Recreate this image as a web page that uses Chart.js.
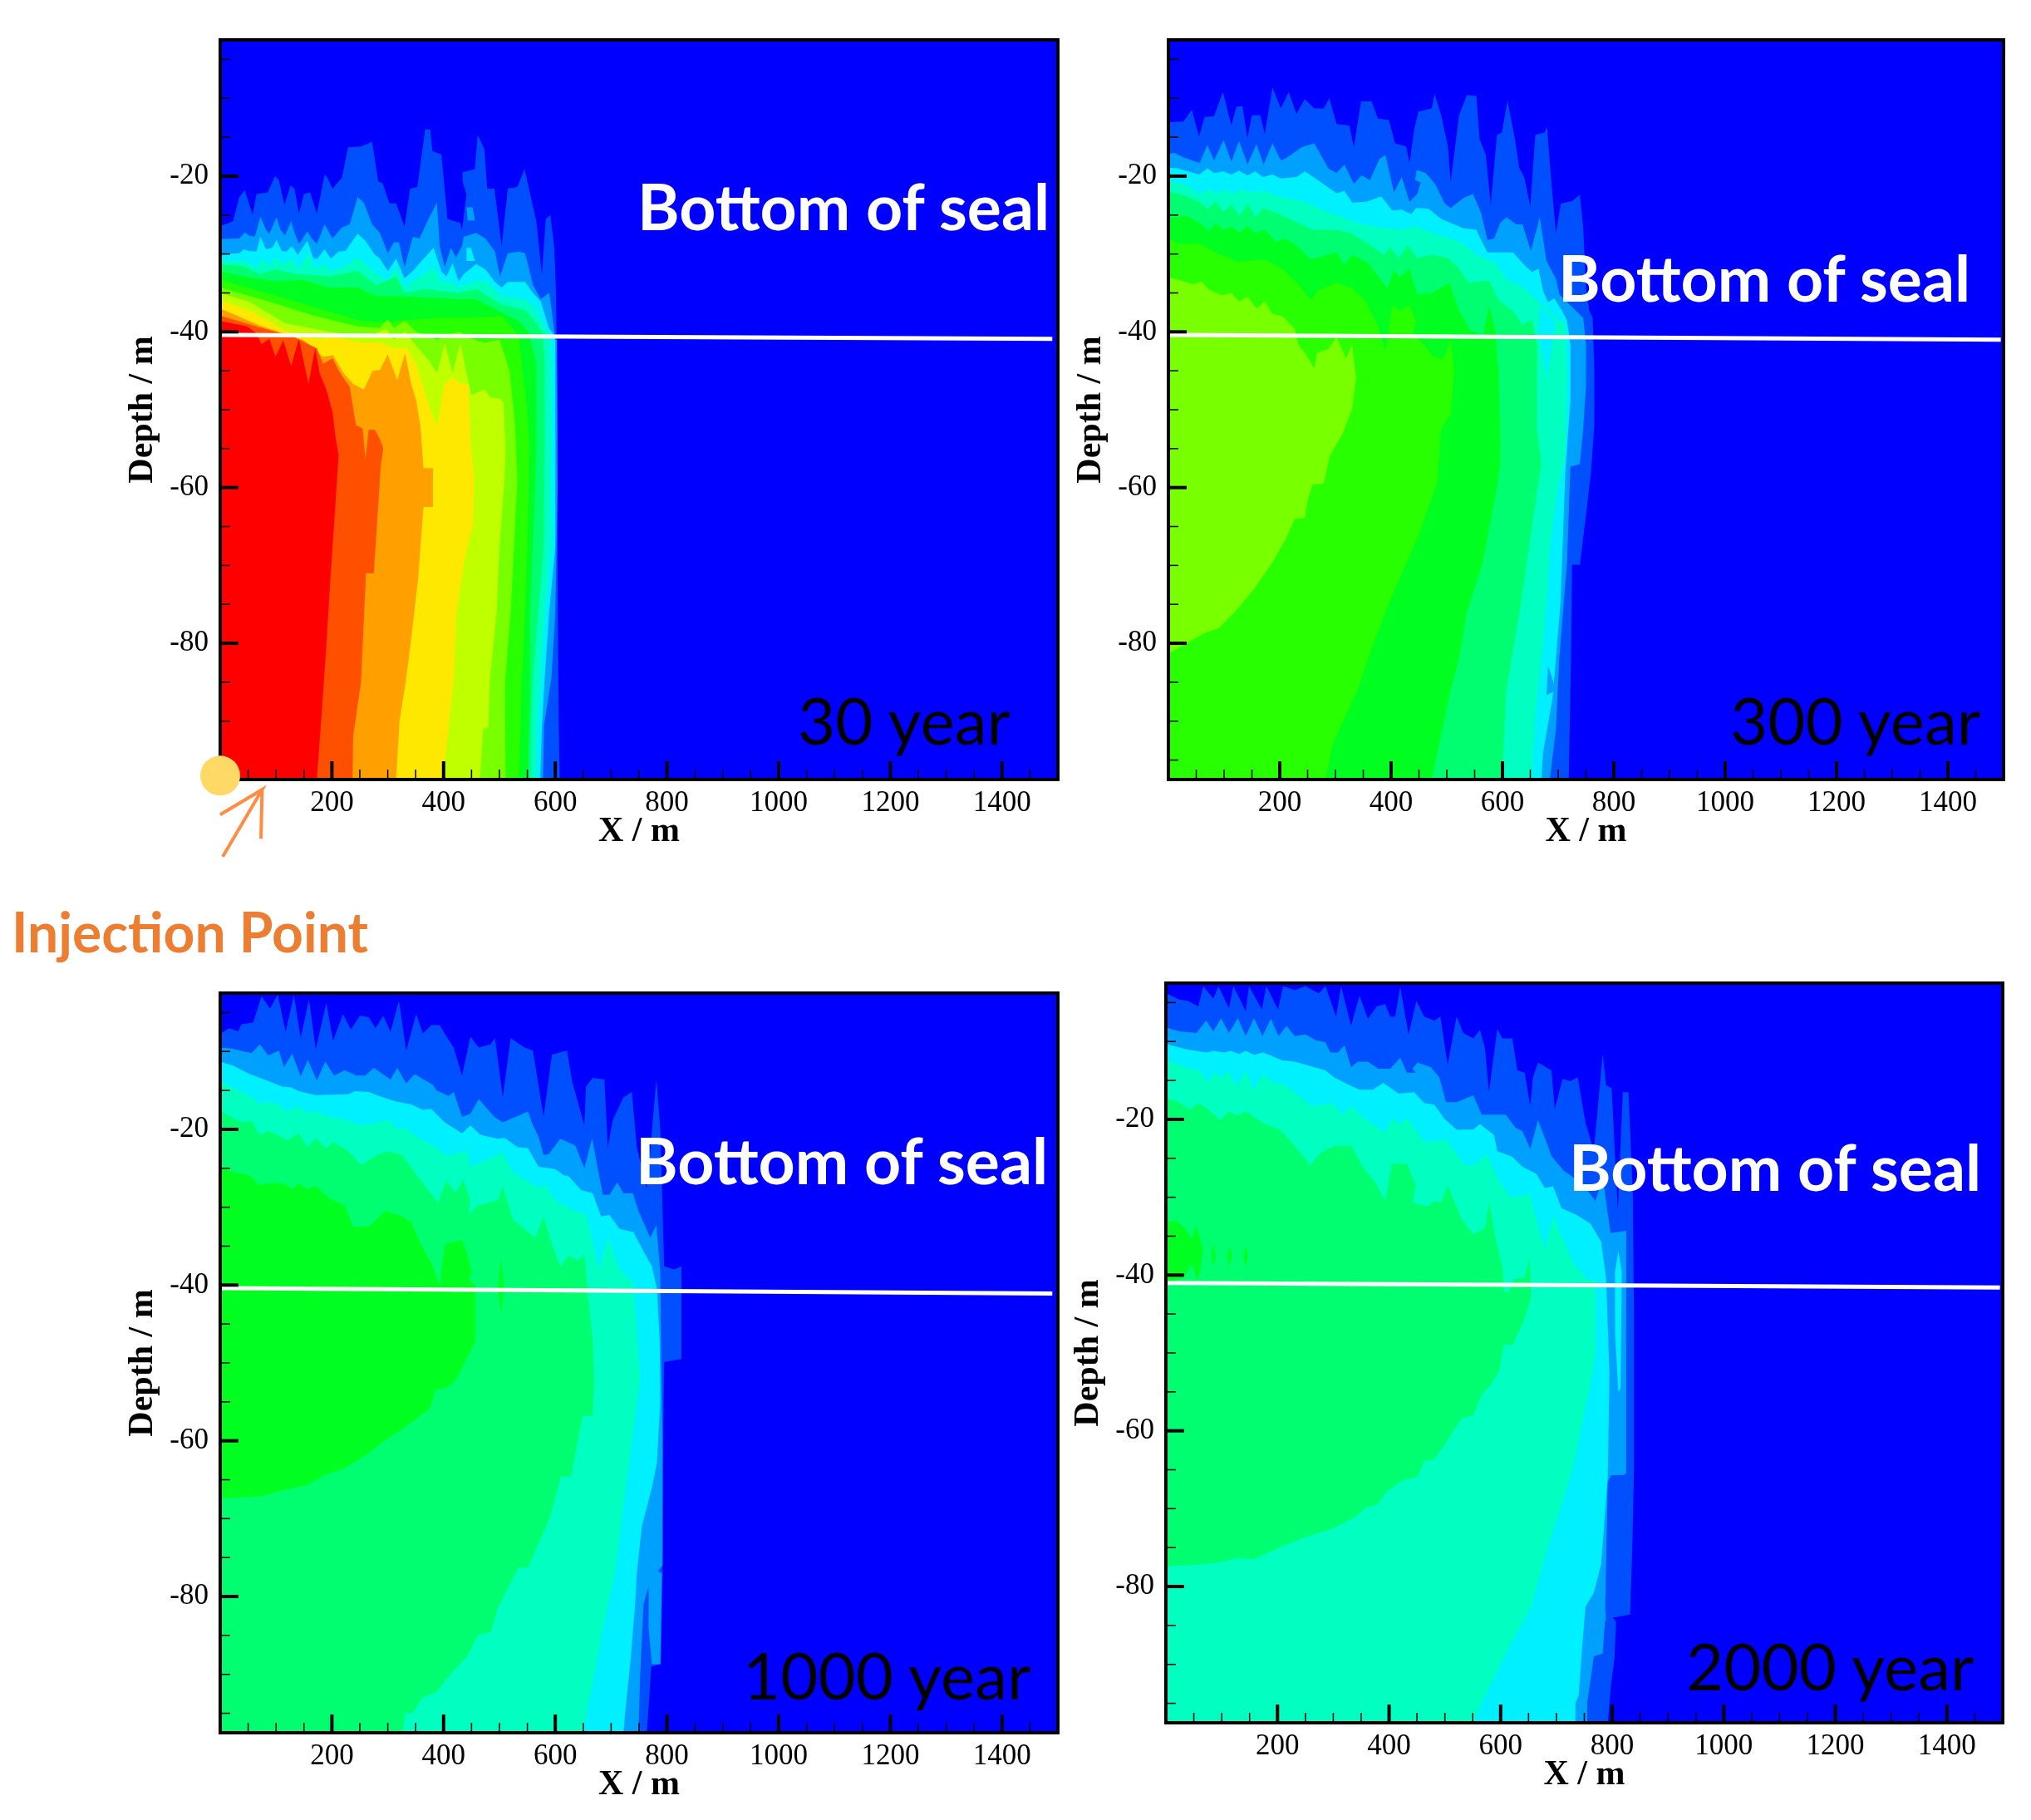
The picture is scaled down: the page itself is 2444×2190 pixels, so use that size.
<!DOCTYPE html>
<html>
<head>
<meta charset="utf-8">
<title>Plume contours</title>
<script src="https://cdn.jsdelivr.net/npm/chart.js@4"></script>
<style>
  html, body { margin: 0; padding: 0; background: #fff; }
  body { position: relative; width: 2444px; height: 2190px; overflow: hidden; }
  canvas { position: absolute; }
  .note { position: absolute; white-space: nowrap; line-height: 1; font-family: Lato, "Noto Sans", sans-serif; }
</style>
</head>
<body>
<script>
// axis values
const xTickValues = [200, 400, 600, 800, 1000, 1200, 1400];
const xMinorTicks = [50, 100, 150, 250, 300, 350, 450, 500, 550, 650, 700, 750, 850, 900, 950, 1050, 1100, 1150, 1250, 1300, 1350, 1450];
const yTickValues = [-20, -40, -60, -80];
const yMinorTicks = [-5, -10, -15, -25, -30, -35, -45, -50, -55, -65, -70, -75, -85, -90, -95];

// contour colours, outermost level first
const backgroundBlue = '#0000ff';
const bandColors = ['#0050ff', '#00a0ff', '#00f0ff', '#00ffc0', '#00ff70', '#00ff20', '#28ff00', '#78ff00', '#c0ff00', '#ffe800', '#ffa000', '#ff5000', '#ff0000'];

const domain = [[0, -2.5], [1500, -2.5], [1500, -97.5], [0, -97.5]];

// 30 year contours [x, depth]
const y30band1 = [[0,-26.4],[23,-25.8],[34,-22.7],[44,-21.8],[51,-23.4],[58,-25],[65,-22.3],[85,-22.1],[98,-20],[105,-20.5],[115,-23.7],[126,-21.2],[133,-21.6],[141,-24.8],[150,-22.3],[161,-22.1],[173,-24.8],[187,-19.8],[192,-20.2],[201,-21.6],[218,-20.2],[229,-16.3],[252,-16.2],[272,-15.6],[283,-20.7],[291,-20.9],[303,-23.5],[315,-23.5],[330,-26.5],[340,-21.6],[353,-21.4],[367,-14],[376,-14],[380,-16.8],[396,-17.2],[407,-25.5],[430,-26],[433,-26.9],[441,-22.3],[434,-20.7],[434,-19.5],[456,-19.1],[461,-14.7],[473,-16.5],[478,-21.6],[491,-21.6],[504,-29],[515,-21.6],[532,-21.4],[545,-19.1],[555,-22.3],[566,-25.8],[576,-32.6],[583,-25.5],[591,-25],[598,-29],[601,-34.3],[604,-50],[604,-70],[606,-90],[608,-97.5],[0,-97.5]];
const y30band2 = [[0,-28.1],[34,-28],[44,-27.2],[51,-27.6],[62,-27.8],[72,-25.2],[82,-26.9],[88,-27.4],[101,-25.3],[108,-26.9],[116,-27.6],[127,-25.8],[133,-27.3],[141,-28.7],[156,-27.1],[164,-28],[173,-28.7],[187,-26.2],[201,-28],[218,-26.6],[232,-26.2],[246,-22.7],[257,-23.4],[272,-26.2],[286,-27.3],[300,-29.9],[311,-28.5],[320,-28.5],[330,-31.7],[345,-27.8],[357,-28],[371,-25.8],[388,-23.4],[393,-29],[402,-31.7],[413,-29.2],[422,-30.4],[433,-29],[436,-27.8],[458,-27.3],[475,-28],[492,-29.7],[501,-32.9],[515,-29.9],[535,-29.7],[546,-29.9],[560,-34],[574,-35.8],[589,-35],[594,-37.5],[600,-41],[603,-41],[604,-60],[600,-76],[593,-84.5],[580,-90.4],[578,-97.5],[0,-97.5]];
const y30band3 = [[0,-30],[34,-29.9],[42,-29.4],[51,-29.6],[65,-29.7],[72,-27.8],[82,-29.4],[93,-29.2],[101,-28.2],[110,-29.6],[119,-29.7],[128,-29],[139,-30.1],[156,-28.3],[167,-30.6],[174,-30.6],[187,-29.4],[198,-30.6],[212,-29.7],[224,-29.6],[246,-27.4],[260,-28.3],[277,-30.1],[286,-30.6],[300,-32.2],[315,-30.6],[330,-33.1],[345,-32.2],[357,-31.2],[382,-29.2],[396,-32.2],[405,-32.9],[416,-31.2],[427,-33.5],[436,-32.6],[458,-31.3],[475,-32],[492,-33.6],[504,-34.3],[515,-33.6],[546,-33.6],[560,-35],[574,-36.1],[589,-39.6],[594,-40],[600,-41],[600,-55],[600,-67.7],[589,-76],[581,-84.5],[576,-90.8],[573,-97.5],[0,-97.5]];
const y30band4 = [[0,-31],[42,-30.8],[65,-31.7],[76,-30.6],[88,-31.5],[99,-30.4],[110,-31.3],[127,-30.6],[141,-31.9],[158,-29.9],[170,-32],[187,-31.3],[198,-32.2],[224,-31.5],[246,-30.4],[269,-31.9],[300,-33.5],[315,-31.7],[330,-34.3],[345,-33.5],[382,-31.7],[396,-33.6],[413,-33.6],[427,-34.3],[458,-33.5],[475,-33.5],[504,-35.4],[546,-35.8],[563,-36.8],[583,-39.6],[591,-40.2],[593,-45],[593,-55],[592,-67.7],[581,-76],[573,-84.5],[568,-90.8],[566,-97.5],[0,-97.5]];
const y30band5 = [[0,-31.3],[42,-31.6],[71,-32.6],[99,-32],[139,-32.6],[195,-32.9],[246,-32.2],[280,-34],[315,-32.9],[330,-35],[365,-34.5],[393,-34.7],[427,-35],[458,-34.5],[504,-36.5],[546,-37.2],[563,-38.6],[577,-40],[581,-44],[581,-55],[579,-67.7],[570,-76],[560,-84.5],[557,-90.8],[556,-97.5],[0,-97.5]];
const y30band6 = [[0,-32.2],[42,-32.9],[99,-33.5],[145,-33.3],[195,-34.3],[246,-34.3],[280,-35.4],[315,-35.4],[365,-35.6],[427,-35.8],[458,-35.8],[504,-37.5],[535,-38.6],[552,-40],[566,-44],[566,-55],[560,-67.7],[555,-76],[555,-84.5],[551,-97.5],[0,-97.5]];
const y30band7 = [[0,-33.3],[82,-35],[167,-36.8],[252,-38.6],[297,-38.8],[311,-38.6],[394,-38.2],[450,-38.2],[504,-38],[524,-39.6],[535,-40.7],[540,-44],[550,-50],[554,-55],[550,-67.7],[546,-76],[540,-85],[535,-97.5],[0,-97.5]];
const y30band8 = [[0,-34.3],[82,-36],[167,-37.9],[246,-39.3],[285,-39.5],[300,-38.4],[311,-39.5],[331,-38.6],[351,-40],[388,-41],[402,-40.7],[416,-40.2],[430,-40],[441,-40.7],[473,-41.4],[500,-41],[505,-42],[518,-45],[528,-52],[532,-59],[526,-67.7],[520,-76],[510,-85],[511,-97.5],[0,-97.5]];
const y30band9 = [[0,-35],[54,-36.2],[116,-38.9],[195,-40],[263,-40.7],[297,-39.6],[311,-41],[331,-40],[351,-41.8],[376,-43.9],[388,-45.3],[402,-41.4],[416,-45.3],[430,-41.4],[441,-45.3],[450,-48.1],[473,-47.4],[485,-48.5],[498,-48.5],[507,-49],[511,-55],[509,-59],[500,-67.7],[495,-76],[483,-84.5],[480,-90.8],[471,-91],[465,-97.5],[0,-97.5]];
const y30band10 = [[0,-35.9],[65,-37.7],[116,-39.8],[173,-40.9],[207,-40.7],[252,-41.4],[286,-41.4],[308,-42.1],[334,-42.1],[351,-44.2],[371,-48.8],[388,-52.2],[402,-46.7],[416,-45.8],[430,-46.7],[444,-46.7],[449,-55],[455,-59],[452,-65],[438,-69],[423,-76],[418,-84.5],[409,-90.8],[398,-97.5],[0,-97.5]];
const y30band11 = [[0,-37],[71,-39.2],[150,-41.1],[184,-43.2],[202,-43],[221,-45.3],[238,-46.7],[257,-47.4],[273,-45],[286,-44.9],[300,-42.9],[317,-46.2],[331,-42.8],[342,-46.7],[351,-48.8],[359,-52.4],[364,-57.5],[381,-57.5],[381,-62.5],[364,-62.5],[354,-72],[341,-80],[332,-85],[321,-90],[315,-97.5],[0,-97.5]];
const y30band12 = [[0,-37.9],[60,-39.2],[130,-40.6],[173,-42.1],[184,-44.1],[201,-43.4],[215,-45.3],[232,-47.1],[243,-52],[255,-52.4],[260,-56.3],[266,-52.6],[277,-52.6],[286,-53.8],[292,-55],[287,-57.5],[285,-60],[275,-71],[261,-71],[252,-85],[238,-92],[237,-97.5],[0,-97.5]];
const y30band13 = [[0,-38.6],[48,-39.3],[65,-40.2],[74,-41.6],[88,-40.9],[99,-43.2],[113,-41.1],[127,-44.4],[141,-40.9],[158,-46.7],[170,-42.1],[178,-45.3],[190,-47.4],[201,-50.3],[207,-53.8],[212,-55.9],[205,-63.5],[197,-72],[190,-80.3],[182,-88.7],[173,-97.5],[0,-97.5]];
const y30patchA = [[441,-24],[452,-24],[456,-25.7],[443,-25.7]];
const y30patchB = [[441,-29.2],[449,-29.2],[456,-30.9],[441,-30.9]];

// 300 year contours
const y300band1 = [[0,-13.1],[27,-13],[42,-11.5],[55,-14.9],[65,-12.4],[82,-12.3],[98,-9.2],[113,-13.5],[122,-11.1],[133,-11],[142,-15.1],[150,-12.2],[165,-12.2],[173,-14.6],[187,-8.6],[202,-11.3],[216,-9.2],[230,-12],[245,-10.1],[262,-11.3],[279,-11.3],[289,-10],[302,-13.3],[325,-13.5],[333,-16.3],[346,-10.4],[365,-10.4],[376,-12.6],[396,-12.8],[407,-15.8],[427,-16.2],[433,-18.3],[442,-13.8],[449,-11.7],[473,-11.3],[478,-9.4],[490,-12.2],[502,-16.2],[507,-20.8],[522,-12.2],[536,-9.6],[553,-9.7],[559,-15.3],[570,-17.2],[579,-23.7],[590,-14.7],[599,-14.4],[609,-10.3],[622,-15.1],[630,-18.9],[639,-20.1],[650,-23.9],[659,-14.7],[676,-14.4],[680,-13.6],[687,-20.1],[696,-27.3],[705,-23.5],[725,-23.2],[739,-22.4],[745,-26.6],[750,-34.4],[756,-37.3],[762,-38.2],[765,-45],[765,-52],[759,-58],[750,-63.5],[739,-69.9],[725,-69.9],[723,-82],[719,-97.5],[0,-97.5]];
const y300band2 = [[0,-17.2],[10,-17],[27,-17.6],[56,-18.3],[70,-16],[82,-18],[99,-15.4],[113,-18.1],[127,-15.5],[142,-18.5],[158,-15.9],[171,-18.5],[187,-15.8],[202,-18],[213,-17.6],[239,-16.3],[262,-15.8],[287,-19],[302,-19.6],[316,-18.5],[333,-21],[347,-19.9],[362,-20.5],[379,-17.8],[390,-17.3],[405,-22.1],[419,-20.1],[433,-23.3],[447,-22.3],[453,-20.8],[443,-20.5],[446,-19.2],[462,-19.6],[479,-21],[496,-23.5],[507,-24.1],[530,-22.8],[547,-22.3],[562,-24.8],[573,-28.2],[585,-28],[596,-26],[607,-25.3],[625,-26.2],[636,-26.2],[651,-29.6],[667,-25.3],[679,-30.9],[696,-33.2],[702,-35.2],[745,-38.2],[750,-41.6],[750,-47],[745,-52.4],[739,-57],[722,-57.3],[716,-69.5],[702,-82],[696,-91],[685,-97.5],[0,-97.5]];
const y300band3 = [[0,-18.9],[16,-19],[56,-19.8],[70,-19],[82,-19.6],[99,-19.4],[113,-19.8],[127,-19.3],[142,-19.9],[156,-19.4],[170,-20.1],[187,-19.8],[202,-20.3],[230,-20.1],[245,-19.4],[270,-20.6],[302,-22.2],[316,-21.9],[330,-23.4],[356,-23.3],[382,-22.6],[402,-24.4],[419,-24.3],[436,-24.9],[445,-24.1],[467,-24.2],[490,-25.5],[530,-26.7],[553,-26.9],[565,-28.7],[573,-29.8],[619,-29.8],[639,-31.4],[653,-32.3],[665,-31.9],[673,-34.8],[682,-36.2],[693,-35.7],[707,-37.3],[716,-38.6],[722,-41.6],[722,-48.8],[713,-57.7],[707,-69.5],[704,-75],[690,-87],[673,-94],[670,-97.5],[0,-97.5]];
const y300band4 = [[0,-20.5],[33,-21.2],[56,-22.3],[73,-21.7],[87,-22.3],[102,-21.7],[116,-22.3],[130,-21.7],[147,-22.1],[170,-21.9],[199,-22.6],[245,-23.3],[279,-24.4],[313,-25.3],[347,-26.2],[393,-26.7],[416,-26.9],[445,-26.4],[473,-27.3],[507,-28],[530,-28.7],[553,-30.1],[587,-31.2],[610,-33.4],[633,-34.1],[656,-35.5],[693,-38],[713,-39.1],[716,-45.2],[713,-56],[707,-57.7],[699,-60],[685,-68],[679,-75],[670,-82],[659,-89],[653,-97.5],[0,-97.5]];
const y300band5 = [[0,-22],[22,-22.3],[56,-23.3],[70,-24.2],[85,-23.3],[99,-24.6],[113,-23.6],[127,-25.1],[143,-23.5],[156,-25.3],[170,-24.1],[199,-24.9],[227,-25.8],[259,-26.9],[302,-26.9],[327,-27.3],[359,-28.7],[387,-30.1],[399,-29.1],[413,-30.5],[430,-28.9],[447,-30.5],[473,-30.1],[502,-30.5],[522,-31.9],[539,-33.7],[576,-33.4],[593,-35.9],[605,-36.6],[619,-37.3],[636,-39.1],[653,-38.4],[662,-41.6],[662,-52.4],[670,-57],[653,-65],[633,-75],[607,-86],[599,-97.5],[0,-97.5]];
const y300band6 = [[0,-25.3],[33,-25.1],[56,-26],[73,-27.1],[85,-26],[99,-26.9],[113,-26.4],[127,-27.2],[142,-26.4],[156,-27.3],[173,-26.9],[193,-28.4],[210,-28],[233,-29.1],[256,-30.7],[302,-29.8],[316,-31.4],[330,-30.1],[359,-31.2],[393,-34.4],[405,-32.1],[416,-33],[432,-31.8],[447,-35.2],[473,-35],[505,-33.7],[522,-37.3],[542,-39.8],[565,-40.4],[576,-36.6],[587,-39.8],[593,-45.2],[596,-52.4],[596,-57],[590,-60],[565,-69.5],[536,-76],[522,-82],[507,-86],[473,-97.5],[0,-97.5]];
const y300band7 = [[0,-28],[22,-28.7],[56,-28.7],[85,-29.8],[125,-31],[173,-30.7],[205,-31.9],[227,-33.4],[239,-34.4],[256,-35.9],[270,-34.6],[302,-33.7],[330,-34.4],[353,-35.9],[376,-39.1],[390,-42.5],[402,-36.6],[416,-37.3],[433,-36.6],[445,-38.7],[439,-40.2],[459,-41.6],[473,-43],[493,-43.6],[507,-41.1],[513,-45.2],[507,-50.6],[490,-52.4],[482,-59.5],[450,-66],[402,-73.8],[365,-80.6],[342,-85.6],[296,-92.7],[282,-97.5],[0,-97.5]];
const y300band8 = [[0,-33],[22,-33.4],[45,-33.9],[59,-33.5],[73,-34.6],[96,-35.3],[113,-35],[127,-36.1],[142,-35.5],[159,-37],[173,-36.1],[187,-37.7],[205,-38],[227,-39.6],[233,-41.6],[245,-42.7],[262,-44.7],[267,-42.7],[287,-42.2],[302,-40.7],[319,-43.4],[330,-41.6],[337,-45.9],[330,-49.9],[313,-53.1],[290,-55.9],[279,-59.5],[259,-59.6],[250,-61.7],[245,-63.9],[227,-64],[210,-66.7],[187,-69.6],[153,-73.1],[119,-76],[90,-78.1],[67,-78.6],[33,-80],[0,-81.3]];
const y300patchA = [[667,-36.6],[696,-38.6],[680,-45.9],[664,-40.1]];
const y300patchB = [[682,-82.9],[696,-86],[679,-86.7]];

// 1000 year contours
const y1000band1 = [[0,-7.7],[16,-7],[32,-7.4],[38,-6.5],[59,-6.3],[74,-2.9],[89,-4.5],[103,-2.7],[117,-7.5],[132,-2.8],[144,-8.3],[159,-3.3],[171,-9.7],[190,-3.8],[202,-8.6],[220,-5.2],[234,-7.2],[250,-5.4],[266,-5.6],[278,-7],[292,-5.4],[305,-7.5],[320,-3.5],[333,-9.9],[351,-5.2],[363,-7.7],[378,-6.6],[393,-6.6],[402,-7.7],[418,-9.5],[433,-13.1],[448,-8.1],[463,-9.5],[484,-9.1],[492,-8.3],[506,-15.9],[520,-8.3],[545,-9.5],[560,-9.9],[579,-18.4],[594,-10.4],[621,-9.9],[630,-13.8],[652,-19.5],[655,-14.5],[667,-13.4],[688,-13.6],[694,-22.3],[703,-18.8],[722,-15.9],[737,-15.2],[746,-22.3],[764,-27.7],[781,-13.6],[788,-20],[795,-37.6],[813,-38],[826,-37.6],[826,-49.5],[795,-49.9],[793,-60],[792,-77],[789,-88.7],[772,-89],[764,-97.5],[0,-97.5]];
const y1000band2 = [[0,-9.5],[19,-9.6],[56,-10.2],[71,-9.1],[86,-10.5],[105,-9.9],[114,-12],[129,-10.3],[144,-13.2],[157,-11.1],[173,-13.7],[188,-11.3],[204,-13.1],[223,-12.4],[244,-13.1],[260,-13.1],[275,-12.1],[305,-13.6],[317,-12.1],[333,-14.1],[348,-12.9],[381,-14.3],[387,-15],[409,-15.7],[418,-15.2],[433,-18.4],[448,-18],[463,-16.1],[491,-18.4],[506,-19.1],[551,-17.7],[560,-19.5],[570,-20.9],[579,-23.3],[588,-23.2],[609,-21.2],[636,-22.1],[652,-25],[666,-21.2],[685,-28.4],[697,-28.4],[711,-26.8],[722,-28.2],[739,-28.2],[749,-30.5],[770,-33.9],[781,-32.3],[788,-38.3],[790,-50],[792,-60],[792,-76],[770,-78],[758,-81],[752,-90],[749,-97.5],[0,-97.5]];
const y1000band3 = [[0,-11.3],[23,-11.8],[53,-12.9],[83,-13.7],[111,-14.5],[126,-14.6],[141,-15.1],[171,-15.6],[229,-15.5],[241,-15.1],[266,-15.2],[284,-15.7],[314,-16.4],[342,-16.8],[363,-17.5],[378,-17.4],[402,-19.1],[433,-20.5],[448,-19.5],[466,-20.7],[497,-21.2],[509,-21.1],[533,-22.3],[551,-22.4],[570,-24.8],[600,-25.1],[615,-25.9],[624,-26],[646,-27.8],[667,-28.2],[682,-31.2],[697,-31],[715,-32.8],[740,-33.2],[758,-35.7],[773,-37.6],[782,-40.5],[787,-47.2],[788,-55],[782,-62.8],[773,-66],[755,-71],[746,-77],[743,-81],[735,-88],[725,-95],[722,-97.5],[0,-97.5]];
const y1000band4 = [[0,-13.8],[23,-14.7],[53,-15.6],[71,-16.8],[86,-16.4],[108,-17],[120,-17.7],[141,-17],[156,-17.9],[171,-17.6],[193,-18.4],[217,-18.6],[253,-19.5],[302,-18.8],[320,-20.2],[329,-19.6],[351,-20.9],[387,-22.3],[405,-23.4],[442,-22.7],[448,-24.8],[506,-23],[524,-25.5],[570,-27.5],[582,-27.1],[600,-29.1],[636,-30.5],[655,-30.9],[679,-38],[694,-33.9],[715,-38],[740,-39.8],[746,-45.4],[752,-52.2],[725,-66.7],[707,-77],[686,-83.8],[667,-91.2],[649,-97.5],[0,-97.5]];
const y1000band5 = [[0,-17.6],[19,-18.4],[38,-19.1],[56,-18.9],[71,-20.7],[86,-20.2],[108,-20.9],[121,-21.4],[141,-20.5],[156,-22.3],[171,-21.1],[190,-22.5],[202,-21.6],[229,-22.8],[253,-24.6],[278,-23.4],[299,-22.8],[326,-23.3],[345,-25.2],[375,-28],[390,-29.4],[405,-26.6],[421,-28.2],[435,-26.4],[448,-29.1],[445,-30.9],[460,-29.8],[497,-29.1],[506,-27.3],[524,-31.6],[564,-33.9],[579,-31.2],[594,-34.8],[609,-37.6],[624,-36.2],[640,-36.9],[652,-36],[658,-40.8],[667,-47.2],[670,-52.2],[667,-56.8],[649,-56.8],[628,-64.6],[610,-64.6],[590,-69.9],[551,-76.3],[534,-76.3],[497,-81.5],[485,-84.5],[461,-85],[442,-87.7],[412,-90],[387,-92.3],[362,-93],[344,-95],[332,-94.9],[326,-97.5],[0,-97.5]];
const y1000band6 = [[0,-24.8],[23,-25.5],[53,-25.9],[68,-27.1],[95,-26.9],[114,-26.9],[129,-27.7],[141,-26.9],[156,-27.7],[171,-27.3],[193,-28.7],[223,-29.8],[238,-32.5],[266,-32.5],[296,-30.5],[326,-31.2],[342,-31.9],[357,-34.4],[381,-37.6],[393,-40.1],[402,-34.8],[433,-34.2],[442,-36],[451,-38.3],[445,-39.2],[457,-40.1],[457,-47.2],[442,-49.4],[418,-52.6],[399,-53.3],[387,-53.3],[375,-55.9],[351,-57.2],[314,-59.1],[284,-60.5],[266,-61.6],[223,-63.5],[187,-64.4],[156,-65.7],[108,-66.4],[77,-67.1],[0,-67.4]];
const y1000patchA = [[767,-76.3],[782,-76.7],[791,-77],[788,-88.7],[773,-88.7],[767,-84]];
const y1000patchB = [[497,-40.4],[503,-36.5],[508,-40.4],[503,-43.7]];

// 2000 year contours
const y2000band1 = [[0,-3.8],[24,-4.6],[40,-4.8],[58,-5.5],[67,-2.9],[85,-4.5],[94,-2.9],[113,-5.7],[121,-2.9],[143,-6.1],[149,-2.9],[172,-5.9],[180,-2.9],[201,-5.9],[210,-2.9],[231,-3.4],[250,-2.9],[274,-3.8],[286,-2.9],[305,-6.8],[314,-2.9],[332,-8],[347,-4.1],[362,-7.1],[378,-5.5],[393,-5.2],[402,-6.8],[411,-6.8],[420,-3],[435,-9.1],[449,-4.8],[463,-6.8],[481,-7.3],[492,-6.8],[505,-13],[521,-6.8],[533,-8.9],[551,-9.6],[563,-8.5],[572,-10.9],[579,-16.5],[594,-8.4],[603,-9.6],[621,-9.6],[630,-13.7],[643,-14],[653,-18.3],[658,-14.6],[667,-12.7],[691,-13.7],[697,-18.7],[711,-14.8],[725,-15.1],[738,-14.6],[752,-20.4],[767,-24],[783,-11.6],[789,-15.6],[799,-16],[810,-31.8],[819,-16.5],[829,-16.5],[837,-29.6],[839,-45],[839,-65],[836,-75],[832,-83.6],[801,-84],[807,-84.5],[804,-89.3],[798,-92.5],[792,-97.5],[0,-97.5]];
const y2000band2 = [[0,-8.2],[24,-8.7],[55,-8.9],[72,-7.3],[85,-8.7],[99,-7],[113,-8.9],[129,-7],[143,-9.3],[158,-7],[173,-9.3],[188,-7.1],[202,-9.3],[216,-8],[231,-9.3],[250,-9.1],[268,-9.8],[286,-10.1],[295,-11.4],[308,-11.4],[320,-10.5],[332,-13.3],[344,-12.6],[362,-12.6],[381,-13.5],[402,-13.5],[420,-12.1],[432,-14],[448,-14],[442,-13.5],[451,-12.7],[475,-13.3],[490,-14.6],[502,-17.8],[521,-17.8],[551,-16.9],[566,-19.4],[609,-19.4],[627,-21.1],[639,-21.5],[653,-23.8],[667,-20.1],[682,-22.9],[691,-24.7],[713,-26.6],[746,-28.2],[770,-30.5],[783,-27.5],[797,-34.6],[825,-34.3],[825,-65.5],[819,-65.7],[798,-65.7],[792,-66.6],[789,-77.2],[787,-84.3],[783,-88.6],[767,-89],[755,-95],[755,-97.5],[0,-97.5]];
const y2000band3 = [[0,-10.3],[37,-11],[73,-11.4],[85,-11.2],[104,-11.4],[116,-11.2],[131,-11.6],[143,-11.2],[158,-11.7],[174,-11.4],[189,-11.8],[207,-12.4],[231,-12.6],[286,-13.7],[301,-14.6],[329,-15.6],[347,-16.2],[371,-16.2],[390,-15.3],[417,-16.7],[445,-16.5],[463,-17.9],[481,-18.1],[499,-19.9],[521,-21.3],[551,-21.3],[563,-20.6],[588,-22],[594,-24.1],[621,-24.8],[639,-26.1],[664,-27],[679,-28.8],[694,-28.6],[709,-31.4],[737,-32.3],[761,-33.4],[780,-35.7],[789,-40.3],[795,-52.7],[792,-66],[780,-77.2],[767,-80.8],[752,-82.6],[746,-87.9],[740,-93.9],[734,-95],[734,-97.5],[0,-97.5]];
const y2000band4 = [[0,-12.4],[37,-13.3],[61,-13.7],[76,-15.3],[85,-14],[100,-14.6],[113,-13.9],[128,-15.8],[143,-13.7],[158,-16.3],[174,-14.2],[195,-15.5],[207,-15.3],[231,-16.5],[262,-18.3],[298,-17.9],[317,-19.4],[332,-18.3],[353,-19.7],[393,-21.7],[405,-19.9],[420,-20.6],[432,-19.7],[463,-22.9],[502,-22.6],[536,-25.9],[551,-25.9],[575,-24.5],[597,-27.9],[618,-30],[652,-29.6],[679,-36.7],[694,-32.5],[731,-38.5],[755,-40.6],[770,-40.6],[770,-50],[761,-54],[728,-65.3],[682,-75.5],[655,-82.6],[609,-88.6],[566,-95],[551,-97.5],[0,-97.5]];
const y2000band5 = [[0,-17.4],[18,-17.6],[43,-18.7],[58,-17.9],[76,-18.7],[97,-20.1],[113,-19],[128,-19.5],[143,-19],[177,-20.6],[204,-21.3],[231,-23.4],[259,-25.9],[277,-24.3],[301,-23.4],[332,-23.4],[353,-26.1],[378,-28.4],[393,-30.5],[405,-25.7],[432,-25.7],[448,-28.6],[442,-30.7],[469,-31.2],[481,-30.5],[493,-30.7],[505,-28.4],[530,-32.8],[551,-34.8],[572,-33.9],[579,-30.5],[591,-35.3],[603,-38.9],[606,-42.1],[615,-42.2],[624,-40.5],[643,-40.3],[652,-37.8],[655,-42.8],[643,-45.6],[621,-49.1],[606,-48.8],[597,-52.4],[582,-54.1],[566,-55.4],[551,-58],[530,-58.4],[499,-61.8],[481,-63.7],[463,-63.9],[451,-65.9],[423,-66.4],[396,-67.8],[378,-69.6],[359,-69.8],[341,-71],[298,-72.6],[256,-73.5],[207,-74.9],[158,-76.5],[128,-76.3],[97,-76.9],[55,-77.2],[0,-77.4]];
const y2000lens = [[0,-33.2],[18,-33],[33,-33.9],[46,-35.3],[55,-33.7],[67,-36.7],[61,-39.9],[55,-40.6],[46,-38.5],[33,-40.3],[0,-41]];
const y2000sliverA = [[85,-35.9],[89,-37.5],[85,-39],[81,-37.5]];
const y2000sliverB = [[114,-36.2],[118,-37.6],[114,-39],[110,-37.6]];
const y2000sliverC = [[143,-36.2],[147,-37.6],[143,-39],[139,-37.6]];
const y2000tongue = [[772,-74.6],[778,-77],[789,-84.3],[785,-84.5],[776,-80]];
const y2000lensCyan = [[811,-36.9],[817,-39.6],[816,-47.4],[815,-54.5],[811,-55],[805,-47.4],[805,-39.6]];

// bottom of seal line for each panel
const seal30 = [[0, -40.4], [1490, -40.9]];
const seal300 = [[0, -40.4], [1495, -41]];
const seal1000 = [[0, -40.4], [1490, -41.1]];
const seal2000 = [[0, -41], [1495, -41.6]];

// injection point marker and its arrow, panel 1
const injectionPoint = [[0, -97]];
const injectionArrow = [[4.5, -107.4], [75, -98.8], [0, -102], [75, -98.8], [73, -105.1]];

const panels = [
  { left: 265, right: 1273, top: 48, bottom: 938, seal: seal30, marker: true,
    layers: [[y30band1,0],[y30band2,1],[y30patchA,1],[y30band3,2],[y30patchB,2],[y30band4,3],[y30band5,4],[y30band6,5],[y30band7,6],[y30band8,7],[y30band9,8],[y30band10,9],[y30band11,10],[y30band12,11],[y30band13,12]] },
  { left: 1406, right: 2411, top: 48, bottom: 938, seal: seal300,
    layers: [[y300band1,0],[y300band2,1],[y300band3,2],[y300band4,3],[y300patchA,2],[y300patchB,1],[y300band5,4],[y300band6,5],[y300band7,6],[y300band8,7]] },
  { left: 265, right: 1273, top: 1195, bottom: 2085, seal: seal1000,
    layers: [[y1000band1,0],[y1000band2,1],[y1000patchA,1],[y1000band3,2],[y1000band4,3],[y1000band5,4],[y1000band6,5],[y1000patchB,5]] },
  { left: 1403, right: 2410, top: 1183, bottom: 2073, seal: seal2000,
    layers: [[y2000band1,0],[y2000tongue,1],[y2000band2,1],[y2000band3,2],[y2000lensCyan,2],[y2000band4,3],[y2000band5,4],[y2000lens,5],[y2000sliverA,5],[y2000sliverB,5],[y2000sliverC,5]] }
];

// overlay texts: text, left, baseline, size, weight, colour
const notes = [
  ['Bottom of seal', 767, 277, 77, 700, '#ffffff'],
  ['Bottom of seal', 1875, 363, 77, 700, '#ffffff'],
  ['Bottom of seal', 765, 1425, 77, 700, '#ffffff'],
  ['Bottom of seal', 1888, 1433, 77, 700, '#ffffff'],
  ['30 year', 960, 896, 78, 400, '#000000'],
  ['300 year', 2082, 896, 78, 400, '#000000'],
  ['1000 year', 894, 2045, 78, 400, '#000000'],
  ['2000 year', 2029, 2034, 78, 400, '#000000'],
  ['Injection Point', 14, 1147, 66, 700, '#ed7d31']
];

const axisFont = 'Liberation Serif';
const labelSpace = 118, titleSpace = 110, sidePad = 6;

// inward tick marks and the black frame, drawn over the contours
const framePlugin = {
  id: 'tecplotFrame',
  afterDatasetDraw(chart, args) {
    if (args.meta.label !== 'Bottom of seal') return;
    const { ctx, chartArea: a, scales: { x, y } } = chart;
    ctx.save();
    ctx.strokeStyle = '#000';
    const tick = (values, len, width, horizontal) => {
      ctx.lineWidth = width;
      values.forEach(v => {
        ctx.beginPath();
        if (horizontal) {
          const py = y.getPixelForValue(v);
          ctx.moveTo(a.left, py);
          ctx.lineTo(a.left + len, py);
        } else {
          const px = x.getPixelForValue(v);
          ctx.moveTo(px, a.bottom);
          ctx.lineTo(px, a.bottom - len);
        }
        ctx.stroke();
      });
    };
    tick(xMinorTicks, 12, 1.5, false);
    tick(yMinorTicks, 12, 1.5, true);
    tick(xTickValues, 22, 4, false);
    tick(yTickValues, 22, 4, true);
    ctx.lineWidth = 4;
    ctx.strokeRect(a.left, a.top, a.right - a.left, a.bottom - a.top);
    ctx.restore();
  }
};

function polygonDataset(points, color) {
  return { data: points, showLine: true, fill: 'shape', backgroundColor: color, borderColor: color, borderWidth: 0, pointRadius: 0, tension: 0 };
}

function drawPanel(panel) {
  const canvas = document.createElement('canvas');
  const plotW = panel.right - panel.left, plotH = panel.bottom - panel.top;
  canvas.width = plotW + labelSpace + sidePad;
  canvas.height = plotH + titleSpace + sidePad;
  document.body.appendChild(canvas);

  const datasets = [polygonDataset(domain, backgroundBlue)];
  panel.layers.forEach(([points, level]) => datasets.push(polygonDataset(points, bandColors[level])));
  datasets.push({ label: 'Bottom of seal', data: panel.seal, showLine: true, fill: false, borderColor: '#fff', borderWidth: 5, pointRadius: 0 });
  if (panel.marker) {
    datasets.push({ label: 'Injection arrow', data: injectionArrow, showLine: true, fill: false, borderColor: '#ff8c42', borderWidth: 4, pointRadius: 0, clip: false });
    datasets.push({ label: 'Injection point', data: injectionPoint, showLine: false, pointRadius: 24, pointBackgroundColor: '#ffd966', pointBorderWidth: 0, clip: false });
  }

  const chart = new Chart(canvas, {
    type: 'scatter',
    data: { datasets: datasets.reverse() }, // first dataset is drawn on top
    plugins: [framePlugin],
    options: {
      responsive: false,
      maintainAspectRatio: false,
      animation: false,
      layout: { padding: { top: sidePad, right: sidePad, left: 0, bottom: 0 } },
      plugins: { legend: { display: false }, tooltip: { enabled: false } },
      scales: {
        x: {
          type: 'linear', min: 0, max: 1500,
          grid: { display: false, drawTicks: false }, border: { display: false },
          afterBuildTicks: s => { s.ticks = xTickValues.map(value => ({ value })); },
          afterFit: s => { s.height = titleSpace; },
          ticks: { autoSkip: false, maxRotation: 0, minRotation: 0, padding: 8, color: '#000', font: { family: axisFont, size: 35 }, callback: v => String(v) },
          title: { display: true, text: 'X / m', color: '#000', font: { family: axisFont, size: 42, weight: 'bold' }, padding: { top: 0, bottom: 22 } }
        },
        y: {
          type: 'linear', min: -97.5, max: -2.5,
          grid: { display: false, drawTicks: false }, border: { display: false },
          afterBuildTicks: s => { s.ticks = yTickValues.map(value => ({ value })); },
          afterFit: s => { s.width = labelSpace; },
          ticks: { autoSkip: false, padding: 14, color: '#000', font: { family: axisFont, size: 35 }, callback: v => String(v) },
          title: { display: true, text: 'Depth / m', color: '#000', font: { family: axisFont, size: 42, weight: 'bold' }, padding: { top: 0, bottom: 0 } }
        }
      }
    }
  });

  // the layout reserves room for labels and markers, so grow the canvas until the plot area fits
  const area = chart.chartArea;
  chart.resize(canvas.width + plotW - (area.right - area.left), canvas.height + plotH - (area.bottom - area.top));
  canvas.style.left = (panel.left - chart.chartArea.left) + 'px';
  canvas.style.top = (panel.top - chart.chartArea.top) + 'px';
}

panels.forEach(drawPanel);

notes.forEach(([text, left, baseline, size, weight, color]) => {
  const el = document.createElement('div');
  el.className = 'note';
  el.textContent = text;
  el.style.left = left + 'px';
  el.style.top = (baseline - 0.887 * size) + 'px';
  el.style.fontSize = size + 'px';
  el.style.fontWeight = weight;
  el.style.color = color;
  document.body.appendChild(el);
});
</script>
</body>
</html>
